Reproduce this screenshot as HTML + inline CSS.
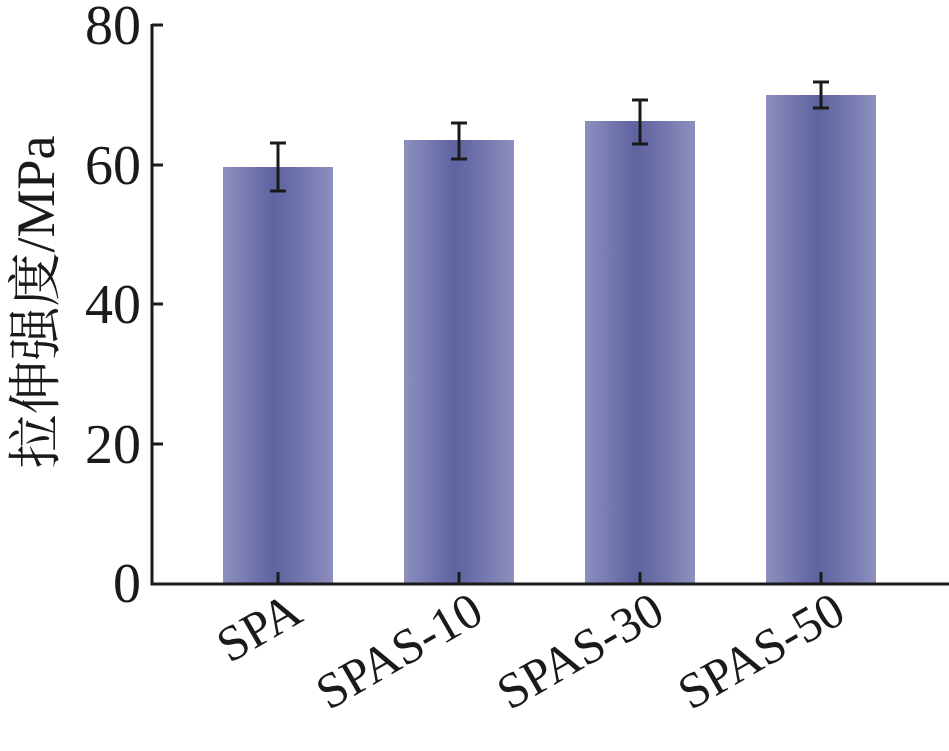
<!DOCTYPE html>
<html><head><meta charset="utf-8"><style>body{margin:0;background:#fff}text{font-family:"Liberation Serif","Noto Serif CJK SC",serif}</style></head><body>
<svg width="949" height="746" xmlns="http://www.w3.org/2000/svg">
<defs><linearGradient id="g" x1="0" x2="1" y1="0" y2="0">
<stop offset="0" stop-color="#8d8fbe"/><stop offset="0.45" stop-color="#5f64a1"/><stop offset="0.55" stop-color="#6468a3"/><stop offset="1" stop-color="#8d8fbe"/></linearGradient></defs>
<g fill="url(#g)">
<rect x="223" y="167" width="110" height="416"/>
<rect x="404" y="140" width="110" height="443"/>
<rect x="585" y="121" width="110" height="462"/>
<rect x="766" y="95" width="110" height="488"/>
</g>
<g stroke="#1a1a1a" stroke-width="3" fill="none">
<path d="M278 143V191M270 143H286M270 191H286"/>
<path d="M459 123V159M451 123H467M451 159H467"/>
<path d="M640 100V144M632 100H648M632 144H648"/>
<path d="M821 82V108M813 82H829M813 108H829"/>
<path d="M152 24V584H949"/>
<path d="M152 25H163M152 165H163M152 304H163M152 444H163"/>
<path d="M278 583V572M459 583V572M640 583V572M821 583V572"/>
</g>
<g font-size="56" fill="#1a1a1a" text-anchor="end">
<text x="141" y="44">80</text><text x="141" y="184">60</text><text x="141" y="323">40</text><text x="141" y="463">20</text><text x="141" y="602">0</text>
</g>
<g font-size="50" fill="#1a1a1a" text-anchor="end">
<text transform="translate(305,620) rotate(-30)">SPA</text>
<text transform="translate(486,620) rotate(-30)">SPAS-10</text>
<text transform="translate(667,620) rotate(-30)">SPAS-30</text>
<text transform="translate(848,620) rotate(-30)">SPAS-50</text>
</g>
<text transform="translate(54,302) rotate(-90)" text-anchor="middle" font-size="54" fill="#1a1a1a">拉伸强度/MPa</text>
</svg>
</body></html>
